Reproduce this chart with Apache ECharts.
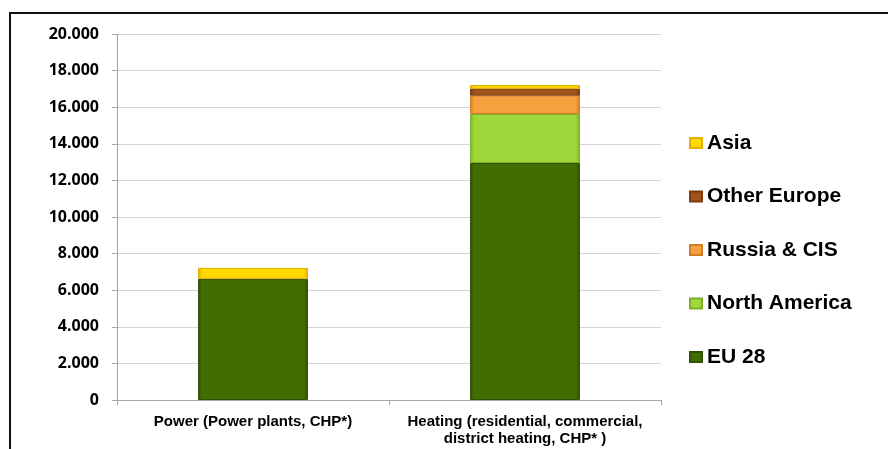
<!DOCTYPE html>
<html>
<head>
<meta charset="utf-8">
<script src="https://cdn.jsdelivr.net/npm/echarts@6/dist/echarts.min.js"></script>
<style>
  html, body { margin: 0; padding: 0; background: #ffffff; }
  #wrap { position: relative; width: 888px; height: 449px; overflow: hidden; }
  #frame { position: absolute; left: 9px; top: 12px; width: 900px; height: 460px;
           border-left: 2px solid #111; border-top: 2px solid #111; box-sizing: border-box; }
  #chart { position: absolute; left: 0; top: 0; width: 888px; height: 449px; }
</style>
</head>
<body>
<div id="wrap">
  <div id="frame"></div>
  <div id="chart"></div>
</div>
<script>
// Application categories on the x axis
const categories = ['Power (Power plants, CHP*)', 'Heating (residential, commercial,\ndistrict heating, CHP* )'];

// Stacked values per region (same order as categories)
const eu28         = [6620, 12950];
const northAmerica = [0, 2680];
const russiaCis    = [0, 1000];
const otherEurope  = [0, 370];
const asia         = [600, 210];

// Legend order, top to bottom
const legendOrder = ['Asia', 'Other Europe', 'Russia & CIS', 'North America', 'EU 28'];

const seriesDefs = [
  { name: 'EU 28',         data: eu28,         color: '#416e00', edge: '#2f5200' },
  { name: 'North America', data: northAmerica, color: '#9fd83a', edge: '#7fb02a' },
  { name: 'Russia & CIS',  data: russiaCis,    color: '#f7a040', edge: '#d07f25' },
  { name: 'Other Europe',  data: otherEurope,  color: '#a3541a', edge: '#7a3c10' },
  { name: 'Asia',          data: asia,         color: '#ffd800', edge: '#e0b000' }
];

function fmt(v) {
  return String(v).replace(/\B(?=(\d{3})+(?!\d))/g, '.');
}

const chart = echarts.init(document.getElementById('chart'), null, { renderer: 'canvas' });

chart.setOption({
  animation: false,
  grid: { left: 117, right: 227, top: 34, bottom: 49, containLabel: false },
  legend: {
    orient: 'vertical',
    left: 689,
    top: 132,
    padding: 0,
    data: legendOrder,
    itemWidth: 12,
    itemHeight: 10,
    itemGap: 31.5,
    icon: 'rect',
    textStyle: {
      fontFamily: '"Liberation Sans", Arial, sans-serif',
      fontWeight: 'bold',
      fontSize: 21,
      lineHeight: 22,
      color: '#000',
      padding: [0, 0, 0, 0]
    }
  },
  xAxis: {
    type: 'category',
    data: categories,
    axisLine: { lineStyle: { color: '#a6a6a6', width: 1 } },
    axisTick: { show: true, length: 5, lineStyle: { color: '#a6a6a6' } },
    axisLabel: {
      fontFamily: '"Liberation Sans", Arial, sans-serif',
      fontWeight: 'bold',
      fontSize: 15,
      lineHeight: 17,
      color: '#000',
      margin: 13,
      interval: 0
    }
  },
  yAxis: {
    type: 'value',
    min: 0,
    max: 20000,
    interval: 2000,
    axisLine: { show: true, lineStyle: { color: '#a6a6a6' } },
    axisTick: { show: true, length: 5, lineStyle: { color: '#a6a6a6' } },
    splitLine: { lineStyle: { color: '#d4d4d4', width: 1 } },
    axisLabel: {
      formatter: fmt,
      fontFamily: '"Open Sans", sans-serif',
      fontWeight: 'bold',
      fontSize: 16,
      color: '#000',
      margin: 18
    }
  },
  series: seriesDefs.map(s => ({
    name: s.name,
    type: 'bar',
    stack: 'total',
    barWidth: 110,
    data: s.data.map(v => (v === 0 ? '-' : v)),
    itemStyle: {
      color: {
        type: 'linear', x: 0, y: 0, x2: 1, y2: 0,
        colorStops: [
          { offset: 0, color: s.edge },
          { offset: 0.04, color: s.color },
          { offset: 0.96, color: s.color },
          { offset: 1, color: s.edge }
        ]
      },
      borderColor: s.edge,
      borderWidth: 1
    }
  }))
});
</script>
</body>
</html>
